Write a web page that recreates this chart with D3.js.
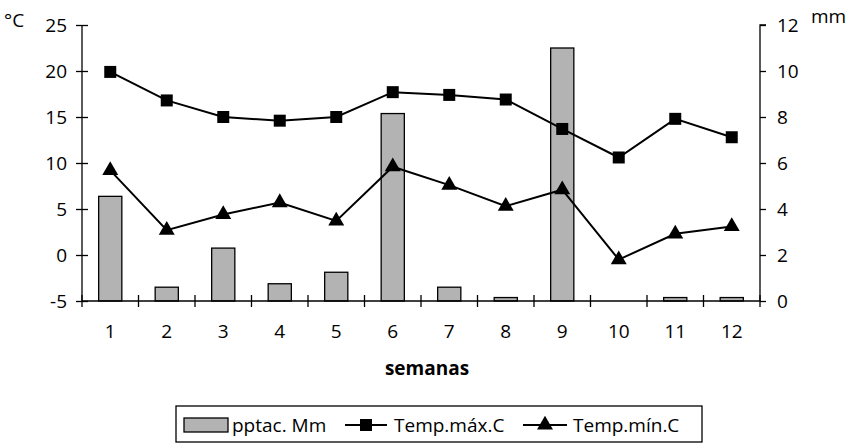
<!DOCTYPE html>
<html>
<head>
<meta charset="utf-8">
<script src="https://cdn.jsdelivr.net/npm/d3@7"></script>
<style>
  body { margin: 0; background: #fff; }
  svg text { font-family: "Open Sans", "Noto Sans", sans-serif; fill: #000; }
</style>
</head>
<body>
<div class="chart"></div>
<script>
var semanas = ["1", "2", "3", "4", "5", "6", "7", "8", "9", "10", "11", "12"];
var pptac = [4.55, 0.6, 2.3, 0.75, 1.25, 8.15, 0.6, 0.15, 11.0, 0, 0.15, 0.15];
var tempMax = [19.9, 16.8, 15.0, 14.6, 15.0, 17.7, 17.4, 16.9, 13.7, 10.6, 14.8, 12.8];
var tempMin = [9.2, 2.7, 4.4, 5.7, 3.7, 9.6, 7.6, 5.3, 7.1, -0.5, 2.3, 3.1];
var tempTicks = [-5, 0, 5, 10, 15, 20, 25];
var mmTicks = [0, 2, 4, 6, 8, 10, 12];

var w = 854, h = 444;
var mLeft = 82, mRight = 760, mTop = 25, mBottom = 301;
var fs = "19px";

var svg = d3.select(".chart").append("svg")
  .attr("width", w)
  .attr("height", h);

var x_scale = d3.scaleBand().domain(semanas).range([mLeft, mRight]);
var y_temp = d3.scaleLinear().domain([-5, 25]).range([mBottom, mTop]);
var y_mm = d3.scaleLinear().domain([0, 12]).range([mBottom, mTop]);

// barras de precipitacion
var bw = x_scale.bandwidth() * 0.41;
svg.append("g").selectAll("rect")
  .data(pptac)
  .enter().append("rect")
  .attr("x", function(d, i) { return x_scale(semanas[i]) + x_scale.bandwidth() / 2 - bw / 2; })
  .attr("y", function(d) { return y_mm(d); })
  .attr("width", bw)
  .attr("height", function(d) { return mBottom - y_mm(d); })
  .attr("fill", "#b3b3b3")
  .attr("stroke", "#000")
  .attr("stroke-width", 1.3)
  .style("display", function(d) { return d > 0 ? null : "none"; });

// ejes
var plain = function(d) { return String(d); };

var axL = svg.append("g")
  .attr("transform", "translate(" + mLeft + ",0)")
  .call(d3.axisLeft(y_temp).tickValues(tempTicks).tickFormat(plain).tickSize(6).tickPadding(9));
axL.selectAll(".tick line").attr("x1", 6);

var axR = svg.append("g")
  .attr("transform", "translate(" + mRight + ",0)")
  .call(d3.axisRight(y_mm).tickValues(mmTicks).tickFormat(plain).tickSize(6).tickPadding(11));

var axB = svg.append("g")
  .attr("transform", "translate(0," + mBottom + ")")
  .call(d3.axisBottom(x_scale).tickSize(0).tickPadding(24));

var bounds = semanas.map(function(s) { return x_scale(s); }).concat([mRight]);
axB.selectAll(".bound")
  .data(bounds)
  .enter().append("line")
  .attr("x1", function(d) { return d; })
  .attr("x2", function(d) { return d; })
  .attr("y1", -6)
  .attr("y2", 6)
  .attr("stroke", "#000")
  .attr("stroke-width", 1.3);

[axL, axR, axB].forEach(function(a) {
  a.select(".domain").attr("stroke-width", 1.3);
  a.selectAll(".tick line").attr("stroke-width", 1.3);
  a.selectAll(".tick text").style("font-size", fs);
});
axL.select(".domain").attr("d", "M0," + mTop + "V" + mBottom);
axR.select(".domain").attr("d", "M6," + mTop + "H0V" + mBottom);
axB.select(".domain").attr("d", "M" + mLeft + ",0H" + mRight);

// lineas de temperatura
var cx = function(i) { return x_scale(semanas[i]) + x_scale.bandwidth() / 2; };
var line = d3.line().x(function(d, i) { return cx(i); }).y(function(d) { return y_temp(d); });

svg.append("path")
  .attr("d", line(tempMax))
  .attr("fill", "none").attr("stroke", "#000").attr("stroke-width", 2);
svg.append("path")
  .attr("d", line(tempMin))
  .attr("fill", "none").attr("stroke", "#000").attr("stroke-width", 2);

var sq = d3.symbol().type(d3.symbolSquare).size(144);
var tri = d3.symbol().type(d3.symbolTriangle).size(110);

svg.append("g").selectAll("path")
  .data(tempMax)
  .enter().append("path")
  .attr("d", sq)
  .attr("transform", function(d, i) { return "translate(" + cx(i) + "," + y_temp(d) + ")"; })
  .attr("fill", "#000");

svg.append("g").selectAll("path")
  .data(tempMin)
  .enter().append("path")
  .attr("d", tri)
  .attr("transform", function(d, i) { return "translate(" + cx(i) + "," + y_temp(d) + ")"; })
  .attr("fill", "#000");

// unidades y titulo
svg.append("text").attr("x", 4).attr("y", 27).style("font-size", fs).text("°C");
svg.append("text").attr("x", 811).attr("y", 23).style("font-size", fs).text("mm");
svg.append("text")
  .attr("x", 427).attr("y", 375)
  .attr("text-anchor", "middle")
  .style("font-size", fs).style("font-weight", "bold")
  .text("semanas");

// leyenda
var lg = svg.append("g");
lg.append("rect")
  .attr("x", 176).attr("y", 406).attr("width", 526).attr("height", 36)
  .attr("fill", "#fff").attr("stroke", "#000").attr("stroke-width", 1.3);
lg.append("rect")
  .attr("x", 184).attr("y", 418).attr("width", 44).attr("height", 14)
  .attr("fill", "#b3b3b3").attr("stroke", "#000").attr("stroke-width", 1.3);
lg.append("text").attr("x", 232).attr("y", 432).style("font-size", fs).text("pptac. Mm");

lg.append("line").attr("x1", 345).attr("x2", 387).attr("y1", 425).attr("y2", 425)
  .attr("stroke", "#000").attr("stroke-width", 2);
lg.append("path").attr("d", sq).attr("transform", "translate(366,425)").attr("fill", "#000");
lg.append("text").attr("x", 394).attr("y", 432).style("font-size", fs).text("Temp.máx.C");

lg.append("line").attr("x1", 523).attr("x2", 567).attr("y1", 425).attr("y2", 425)
  .attr("stroke", "#000").attr("stroke-width", 2);
lg.append("path").attr("d", tri).attr("transform", "translate(545,425)").attr("fill", "#000");
lg.append("text").attr("x", 573).attr("y", 432).style("font-size", fs).text("Temp.mín.C");
</script>
</body>
</html>
